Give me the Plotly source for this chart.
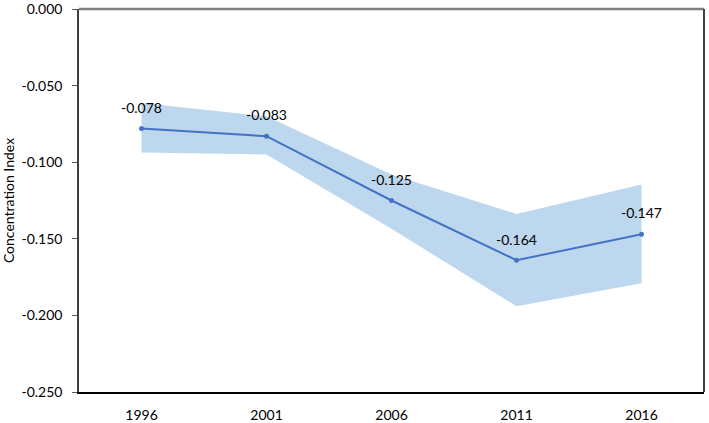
import plotly.graph_objects as go

years = ["1996", "2001", "2006", "2011", "2016"]
ci_values = [-0.078, -0.083, -0.125, -0.164, -0.147]
ci_upper = [-0.0614, -0.0700, -0.1080, -0.1338, -0.1145]
ci_lower = [-0.0936, -0.0950, -0.1435, -0.1940, -0.1790]
y_tickvals = [0.0, -0.05, -0.10, -0.15, -0.20, -0.25]
y_ticktext = ["0.000", "-0.050", "-0.100", "-0.150", "-0.200", "-0.250"]

FONT = "Lato, 'Open Sans', sans-serif"
LINE_COLOR = "#4472C4"
BAND_COLOR = "#BDD7EE"
Y_RANGE = [-0.25, 0.0]
X_RANGE = [-0.5, 4.5]

fig = go.Figure()
fig.add_trace(go.Scatter(x=years, y=ci_lower, mode="lines", line=dict(width=0, color=BAND_COLOR),
                         hoverinfo="skip", showlegend=False))
fig.add_trace(go.Scatter(x=years, y=ci_upper, mode="lines", line=dict(width=0, color=BAND_COLOR),
                         fill="tonexty", fillcolor=BAND_COLOR, hoverinfo="skip", showlegend=False))
fig.add_trace(go.Scatter(x=years, y=ci_values, mode="lines+markers",
                         line=dict(color=LINE_COLOR, width=2),
                         marker=dict(color=LINE_COLOR, size=5),
                         showlegend=False))
# data labels (invisible larger marker lifts the text a little)
fig.add_trace(go.Scatter(x=years, y=ci_values, mode="markers+text",
                         marker=dict(size=18, opacity=0),
                         text=[f"{v:.3f}" for v in ci_values], textposition="top center",
                         textfont=dict(family=FONT, size=14, color="#000000"),
                         hoverinfo="skip", showlegend=False))

fig.update_layout(
    width=709, height=423,
    margin=dict(l=79, r=5, t=9, b=31),
    paper_bgcolor="white", plot_bgcolor="white",
    font=dict(family=FONT, size=13, color="#000000"),
    xaxis=dict(type="category", range=X_RANGE, showgrid=False, zeroline=False,
               showline=True, linecolor="#000000", linewidth=1.5, ticks="",
               ticklabelstandoff=9, automargin=False,
               tickfont=dict(family=FONT, size=14)),
    yaxis=dict(range=Y_RANGE, tickvals=y_tickvals, ticktext=y_ticktext,
               showgrid=False, zeroline=False, showline=True,
               linecolor="#404040", linewidth=1.5,
               ticks="outside", ticklen=5, tickcolor="#595959", tickwidth=1,
               ticklabelstandoff=7, automargin=False, ticklabeloverflow="allow",
               title=dict(text="Concentration Index", font=dict(family=FONT, size=14), standoff=6),
               tickfont=dict(family=FONT, size=14)),
    shapes=[
        dict(type="line", xref="x domain", yref="y domain", x0=0, x1=1, y0=1, y1=1,
             line=dict(color="#7F7F7F", width=2.5), layer="above"),
        dict(type="line", xref="x domain", yref="y domain", x0=1, x1=1, y0=0, y1=1,
             line=dict(color="#404040", width=2), layer="above"),
    ],
)

fig.write_html("out.html", config={"displayModeBar": False},
               post_script="document.body.style.margin='0';")
